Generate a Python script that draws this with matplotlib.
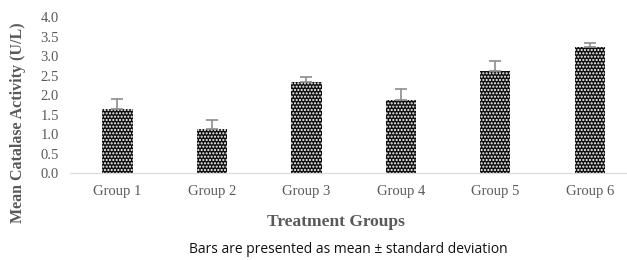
import numpy as np
import matplotlib.pyplot as plt

groups = ['Group 1', 'Group 2', 'Group 3', 'Group 4', 'Group 5', 'Group 6']
means = [1.65, 1.13, 2.35, 1.88, 2.63, 3.23]
sds = [0.26, 0.24, 0.13, 0.29, 0.26, 0.12]

plt.rcParams['hatch.color'] = 'white'
plt.rcParams['hatch.linewidth'] = 1.0

fig = plt.figure(figsize=(6.27, 2.6), dpi=100)
ax = fig.add_axes([0.112, 0.333, 0.904, 0.6])

x = np.arange(len(groups))
ax.bar(x, means, width=0.32, color='#111111', hatch='.....', linewidth=0)
ax.errorbar(x, means, yerr=[np.zeros(len(sds)), sds], fmt='none',
            ecolor='#8c8c8c', elinewidth=1.2, capsize=4, capthick=1.2)

ax.set_xlim(-0.5, 5.5)
ax.set_ylim(0, 4.0)
ax.set_yticks(np.arange(0, 4.01, 0.5))
ax.set_yticklabels([f'{v:.1f}' for v in np.arange(0, 4.01, 0.5)])
ax.set_xticks(x)
ax.set_xticklabels(groups)
ax.tick_params(length=0, labelsize=10.5, labelcolor='#595959', pad=8)
for lab in ax.get_xticklabels() + ax.get_yticklabels():
    lab.set_family('Liberation Serif')

for s in ['top', 'right', 'left']:
    ax.spines[s].set_visible(False)
ax.spines['bottom'].set_color('#d9d9d9')

fig.text(0.029, 0.53, 'Mean Catalase Activity (U/L)', family='Liberation Serif',
         fontweight='bold', fontsize=11.5, color='#595959', rotation=90,
         ha='center', va='center')
fig.text(0.536, 0.146, 'Treatment Groups', family='Liberation Serif',
         fontweight='bold', fontsize=12.5, color='#595959', ha='center', va='center')
fig.text(0.556, 0.04, 'Bars are presented as mean \u00b1 standard deviation',
         family='Open Sans', fontsize=10, color='#111111', ha='center', va='center')

fig.savefig('out.png', dpi=100)
